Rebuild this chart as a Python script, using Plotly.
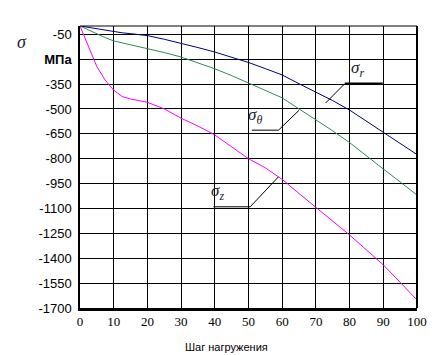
import plotly.graph_objects as go

steps = [0, 2.5, 5, 7.5, 10, 12.5, 15, 20, 25, 30, 35, 40, 45, 50, 55, 60, 65, 70, 75, 80, 85, 90, 95, 100]
sigma_r = [0, -9, -17, -27, -36, -41, -46, -58, -80, -104, -130, -157, -188, -220, -257, -295, -348, -398, -450, -507, -573, -640, -706, -775]
sigma_theta = [0, -24, -48, -70, -90, -101, -113, -136, -160, -187, -222, -258, -299, -343, -388, -433, -500, -565, -632, -703, -785, -862, -940, -1019]
sigma_z = [0, -126, -245, -327, -387, -425, -440, -460, -500, -556, -603, -657, -730, -800, -855, -925, -1010, -1092, -1175, -1260, -1350, -1440, -1545, -1652]

y_tick_vals = [-50, -200, -350, -500, -650, -800, -950, -1100, -1250, -1400, -1550, -1700]
y_tick_text = ["-50", "<b>МПа</b>", "-350", "-500", "-650", "-800", "-950", "-1100", "-1250", "-1400", "-1550", "-1700"]
x_tick_vals = [0, 10, 20, 30, 40, 50, 60, 70, 80, 90, 100]

fig = go.Figure()
fig.add_trace(go.Scatter(x=steps, y=sigma_r, mode="lines", line=dict(color="#000080", width=1), showlegend=False))
fig.add_trace(go.Scatter(x=steps, y=sigma_theta, mode="lines", line=dict(color="#2E8B57", width=1), showlegend=False))
fig.add_trace(go.Scatter(x=steps, y=sigma_z, mode="lines", line=dict(color="#FF00FF", width=1), showlegend=False))

# leader lines for labels
leaders = [
    dict(x0=78.6, y0=-347, x1=89.8, y1=-347, w=2),
    dict(x0=78.6, y0=-347, x1=72.9, y1=-464, w=1),
    dict(x0=51.0, y0=-628, x1=58.9, y1=-628, w=1),
    dict(x0=58.9, y0=-628, x1=65.0, y1=-508, w=1),
    dict(x0=39.6, y0=-1090, x1=50.5, y1=-1090, w=1),
    dict(x0=50.5, y0=-1090, x1=58.9, y1=-909, w=1),
]
for L in leaders:
    fig.add_shape(type="line", xref="x", yref="y", x0=L["x0"], y0=L["y0"], x1=L["x1"], y1=L["y1"],
                  line=dict(color="black", width=L["w"]))

# borders
fig.add_shape(type="line", xref="paper", yref="paper", x0=1, y0=0, x1=1, y1=1, line=dict(color="black", width=2))
fig.add_shape(type="line", xref="paper", yref="paper", x0=0, y0=1, x1=1, y1=1, line=dict(color="black", width=1))

sig_font = dict(family="Liberation Serif", size=17, color="#222")
fig.add_annotation(x=82.4, y=-262, xref="x", yref="y", text="<i>σ</i><sub><i>r</i></sub>", showarrow=False, font=sig_font)
fig.add_annotation(x=51.8, y=-545, xref="x", yref="y", text="<i>σ</i><sub><i>θ</i></sub>", showarrow=False, font=sig_font)
fig.add_annotation(x=40.8, y=-1002, xref="x", yref="y", text="<i>σ</i><sub><i>z</i></sub>", showarrow=False, font=sig_font)

# axis labels (pixel positions converted to paper coords; plot area 80..417 x 26..308)
fig.add_annotation(xref="paper", yref="paper", x=(22 - 80) / 337, y=(308 - 42) / 282,
                   xanchor="center", yanchor="middle", text="<i>σ</i>", showarrow=False,
                   font=dict(family="Liberation Serif", size=18, color="#222"))
fig.add_annotation(xref="paper", yref="paper", x=(226 - 80) / 337, y=(308 - 347) / 282,
                   xanchor="center", yanchor="middle", text="Шаг нагружения", showarrow=False,
                   font=dict(family="Liberation Sans", size=11, color="black"))

fig.update_layout(
    width=444, height=355,
    margin=dict(l=80, r=27, t=26, b=47),
    paper_bgcolor="white", plot_bgcolor="white",
    xaxis=dict(range=[0, 100], tickvals=x_tick_vals, showgrid=True, gridcolor="black", gridwidth=1,
               showline=True, linecolor="black", linewidth=2.5, zeroline=False, ticks="",
               tickfont=dict(family="Liberation Serif", size=13, color="black")),
    yaxis=dict(range=[-1700, 0], tickvals=y_tick_vals, ticktext=y_tick_text, showgrid=True, gridcolor="black",
               gridwidth=1, showline=True, linecolor="black", linewidth=1.5, zeroline=False, ticks="",
               ticklabelstandoff=4,
               tickfont=dict(family="Liberation Sans", size=13, color="black")),
)

fig.write_html("out.html", config={"displayModeBar": False},
               post_script="document.body.style.margin='0';document.body.style.overflow='hidden';")
